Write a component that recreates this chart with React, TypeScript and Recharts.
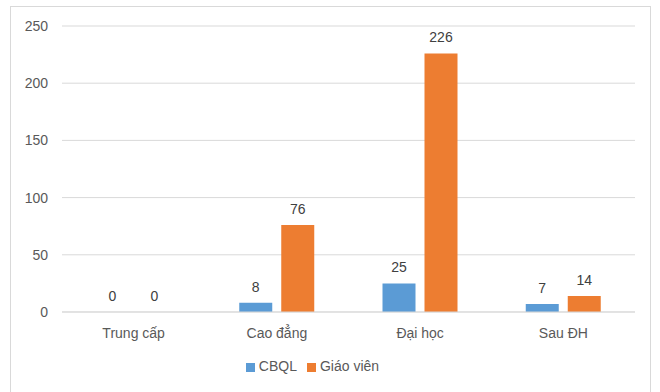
import { Bar, BarChart, CartesianGrid, LabelList, Legend, XAxis, YAxis } from 'recharts';

const categories = ['Trung cấp', 'Cao đẳng', 'Đại học', 'Sau ĐH'];
const cbql = [0, 8, 25, 7];
const giaoVien = [0, 76, 226, 14];
const yTicks = [0, 50, 100, 150, 200, 250];

const data = categories.map((name, i) => ({
  name,
  cbql: cbql[i],
  giaoVien: giaoVien[i],
}));

const font = "'Liberation Sans', Arial, sans-serif";
const textColor = '#595959';

// zero-valued bars still need their "0" label, so give them a hairline height
const zeroMin = (v: number) => (v === 0 ? 0.01 : 0);

export default function App() {
  return (
    <div
      style={{
        position: 'absolute',
        left: 0,
        top: 0,
        width: 660,
        height: 392,
        background: '#fff',
        overflow: 'hidden',
        fontFamily: font,
      }}
    >
      <div
        style={{
          position: 'absolute',
          left: 10,
          top: 6,
          width: 641,
          height: 400,
          border: '1px solid #d9d9d9',
          boxSizing: 'border-box',
        }}
      />
      <BarChart
        width={660}
        height={392}
        data={data}
        margin={{ top: 26, right: 25, left: 0, bottom: 34 }}
        barSize={33}
        barGap={9}
      >
        <CartesianGrid vertical={false} stroke="#d9d9d9" />
        <XAxis
          dataKey="name"
          axisLine={{ stroke: '#d9d9d9' }}
          tickLine={false}
          tickMargin={10}
          height={30}
          tick={{ fill: textColor, fontSize: 14, fontFamily: font }}
        />
        <YAxis
          width={62}
          domain={[0, 250]}
          ticks={yTicks}
          axisLine={false}
          tickLine={false}
          tickMargin={8}
          tick={{ fill: textColor, fontSize: 14, fontFamily: font }}
        />
        <Legend
          iconType="square"
          iconSize={9}
          wrapperStyle={{ top: 358, fontSize: 14, fontFamily: font }}
          formatter={(v) => <span style={{ color: textColor }}>{v}</span>}
        />
        <Bar dataKey="cbql" name="CBQL" fill="#5B9BD5" minPointSize={zeroMin} isAnimationActive={false}>
          <LabelList dataKey="cbql" position="top" offset={11} fill="#404040" fontSize={14} fontFamily={font} />
        </Bar>
        <Bar dataKey="giaoVien" name="Giáo viên" fill="#ED7D31" minPointSize={zeroMin} isAnimationActive={false}>
          <LabelList dataKey="giaoVien" position="top" offset={11} fill="#404040" fontSize={14} fontFamily={font} />
        </Bar>
      </BarChart>
    </div>
  );
}
